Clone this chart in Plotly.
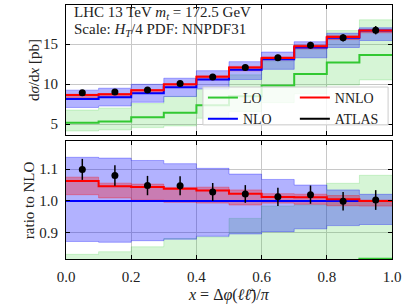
import numpy as np
import plotly.graph_objects as go

# ---------------- data ----------------
edges = [0.0, 0.1, 0.2, 0.3, 0.4, 0.5, 0.6, 0.7, 0.8, 0.9, 1.0]
centers = [0.05, 0.15, 0.25, 0.35, 0.45, 0.55, 0.65, 0.75, 0.85, 0.95]

lo = [5.20, 5.33, 5.87, 6.45, 7.37, 8.50, 9.83, 11.29, 12.70, 13.66]
lo_lo = [4.16, 4.29, 4.58, 4.79, 5.75, 6.60, 7.70, 8.80, 9.90, 10.54]
lo_hi = [6.77, 7.03, 7.58, 8.48, 9.40, 11.17, 12.92, 14.40, 16.70, 18.05]

nlo = [8.14, 8.37, 8.86, 9.62, 10.60, 11.82, 13.13, 14.58, 15.82, 16.70]
nlo_lo = [7.10, 7.28, 7.75, 8.46, 9.42, 10.59, 11.86, 13.30, 14.59, 15.46]
nlo_hi = [9.26, 9.50, 9.99, 10.75, 11.69, 12.82, 14.02, 15.31, 16.37, 17.05]

nnlo = [8.65, 8.76, 9.25, 9.99, 10.95, 12.09, 13.29, 14.75, 15.91, 16.70]
nnlo_lo = [8.30, 8.45, 8.89, 9.58, 10.53, 11.67, 13.04, 14.43, 15.58, 16.43]
nnlo_hi = [8.75, 8.84, 9.33, 10.03, 11.06, 12.23, 13.43, 14.89, 16.09, 16.75]

atlas = [8.95, 9.04, 9.29, 10.08, 10.90, 12.08, 13.30, 14.87, 15.80, 16.75]
atlas_err = [0.27, 0.27, 0.27, 0.29, 0.30, 0.33, 0.38, 0.42, 0.46, 0.52]

text_line1 = "LHC 13 TeV <i>m</i><sub><i>t</i></sub> = 172.5 GeV"
text_line2 = "Scale: <i>H</i><sub><i>T</i></sub>/4 PDF: NNPDF31"

# ---------------- styling ----------------
FONT = "Liberation Serif"
c_lo, c_lo_band = "rgb(50,200,50)", "rgba(50,205,50,0.2)"
c_nlo, c_nlo_band = "rgb(0,0,255)", "rgba(0,0,255,0.3)"
c_nnlo, c_nnlo_band = "rgb(255,0,0)", "rgba(255,0,0,0.3)"

nlo_a = np.array(nlo)


def step(v):
    v = list(v)
    return v + [v[-1]]


fig = go.Figure()

for xa, ya, ratio in (("x", "y", False), ("x2", "y2", True)):
    def tr(v):
        a = np.array(v, dtype=float)
        return a / nlo_a if ratio else a

    # bands
    for lo_v, hi_v, col in ((lo_lo, lo_hi, c_lo_band),
                            (nlo_lo, nlo_hi, c_nlo_band),
                            (nnlo_lo, nnlo_hi, c_nnlo_band)):
        fig.add_trace(go.Scatter(x=edges, y=step(tr(lo_v)), mode="lines",
                                 line=dict(shape="hv", color=col, width=1),
                                 showlegend=False, hoverinfo="skip",
                                 xaxis=xa, yaxis=ya))
        fig.add_trace(go.Scatter(x=edges, y=step(tr(hi_v)), mode="lines",
                                 line=dict(shape="hv", color=col, width=1),
                                 fill="tonexty", fillcolor=col,
                                 showlegend=False, hoverinfo="skip",
                                 xaxis=xa, yaxis=ya))
    # central lines
    for name, v, col, leg in (("LO", lo, c_lo, "legend"), ("NLO", nlo, c_nlo, "legend"),
                              ("NNLO", nnlo, c_nnlo, "legend2")):
        fig.add_trace(go.Scatter(x=edges, y=step(tr(v)), mode="lines",
                                 name=name, legend=leg,
                                 line=dict(shape="hv", color=col, width=2),
                                 showlegend=not ratio,
                                 xaxis=xa, yaxis=ya))
    # data points
    fig.add_trace(go.Scatter(x=centers, y=tr(atlas), mode="markers",
                             marker=dict(color="black", size=7),
                             error_y=dict(type="data", array=tr(atlas_err),
                                          color="black", thickness=1.5, width=0),
                             showlegend=False, xaxis=xa, yaxis=ya))

# legend entry for ATLAS (line sample, as in reference)
fig.add_trace(go.Scatter(x=[None], y=[None], mode="lines", name="ATLAS",
                         legend="legend2", line=dict(color="black", width=2),
                         xaxis="x", yaxis="y"))

axis_common = dict(showline=True, linecolor="black", linewidth=1, mirror="ticks",
                   ticks="inside", ticklen=4, tickcolor="black",
                   showgrid=True, gridcolor="rgb(200,200,200)", gridwidth=1,
                   zeroline=False, tickfont=dict(family=FONT, size=15, color="#222"))

leg_common = dict(orientation="v", xanchor="left", yanchor="top",
                  xref="paper", yref="paper", traceorder="normal", itemwidth=30,
                  bgcolor="rgba(0,0,0,0)", borderwidth=0, tracegroupgap=0,
                  font=dict(family=FONT, size=14, color="#222"))

tickvals_x = [0.0, 0.2, 0.4, 0.6, 0.8, 1.0]
fig.update_layout(
    width=409, height=307,
    margin=dict(l=66, r=17, t=5, b=48),
    plot_bgcolor="white", paper_bgcolor="white",
    font=dict(family=FONT, size=15, color="#222"),
    xaxis=dict(domain=[0, 1], range=[0, 1], anchor="y", matches="x2",
               tickvals=tickvals_x, showticklabels=False, **axis_common),
    yaxis=dict(domain=[0.488, 1], range=[3.65, 19.9], anchor="x",
               tickvals=[5, 10, 15], ticklabelstandoff=4, **axis_common),
    xaxis2=dict(domain=[0, 1], range=[0, 1], anchor="y2",
                tickvals=tickvals_x, ticktext=[f"{v:.1f}" for v in tickvals_x],
                ticklabelstandoff=4, **axis_common),
    yaxis2=dict(domain=[0, 0.4646], range=[0.817, 1.189], anchor="x2",
                tickvals=[0.9, 1.0, 1.1], ticktext=["0.9", "1.0", "1.1"],
                ticklabelstandoff=4, **axis_common),
    legend=dict(x=0.42, y=0.697, **leg_common),
    legend2=dict(x=0.702, y=0.697, **leg_common),
    showlegend=True,
)

# legend frame (semi-transparent, like matplotlib)
fig.add_shape(type="rect", xref="paper", yref="paper",
              x0=0.42, x1=0.988, y0=0.528, y1=0.677, layer="above",
              line=dict(color="rgb(204,204,204)", width=1),
              fillcolor="rgba(255,255,255,0.8)")

ann = [
    dict(text=text_line1, x=0.018, y=0.9685, xanchor="left", yanchor="middle", size=15),
    dict(text=text_line2, x=0.018, y=0.9016, xanchor="left", yanchor="middle", size=15),
    dict(text="d<i>σ</i>/d<i>x</i> [pb]", x=-0.098, y=0.744, textangle=-90,
         xanchor="center", yanchor="middle", size=15),
    dict(text="ratio to NLO", x=-0.113, y=0.2323, textangle=-90,
         xanchor="center", yanchor="middle", size=15),
    dict(text="<i>x</i> = Δ<i>φ</i>(<i>ℓ</i><i>ℓ̄</i>)/<i>π</i>", x=0.5, y=-0.143,
         xanchor="center", yanchor="middle", size=16),
]
for a in ann:
    size = a.pop("size")
    fig.add_annotation(xref="paper", yref="paper", showarrow=False,
                       font=dict(family=FONT, size=size, color="#222"), **a)

fig.write_html("out.html", config={"displayModeBar": False},
               post_script="document.body.style.margin='0';"
                           "document.body.style.overflow='hidden';")
